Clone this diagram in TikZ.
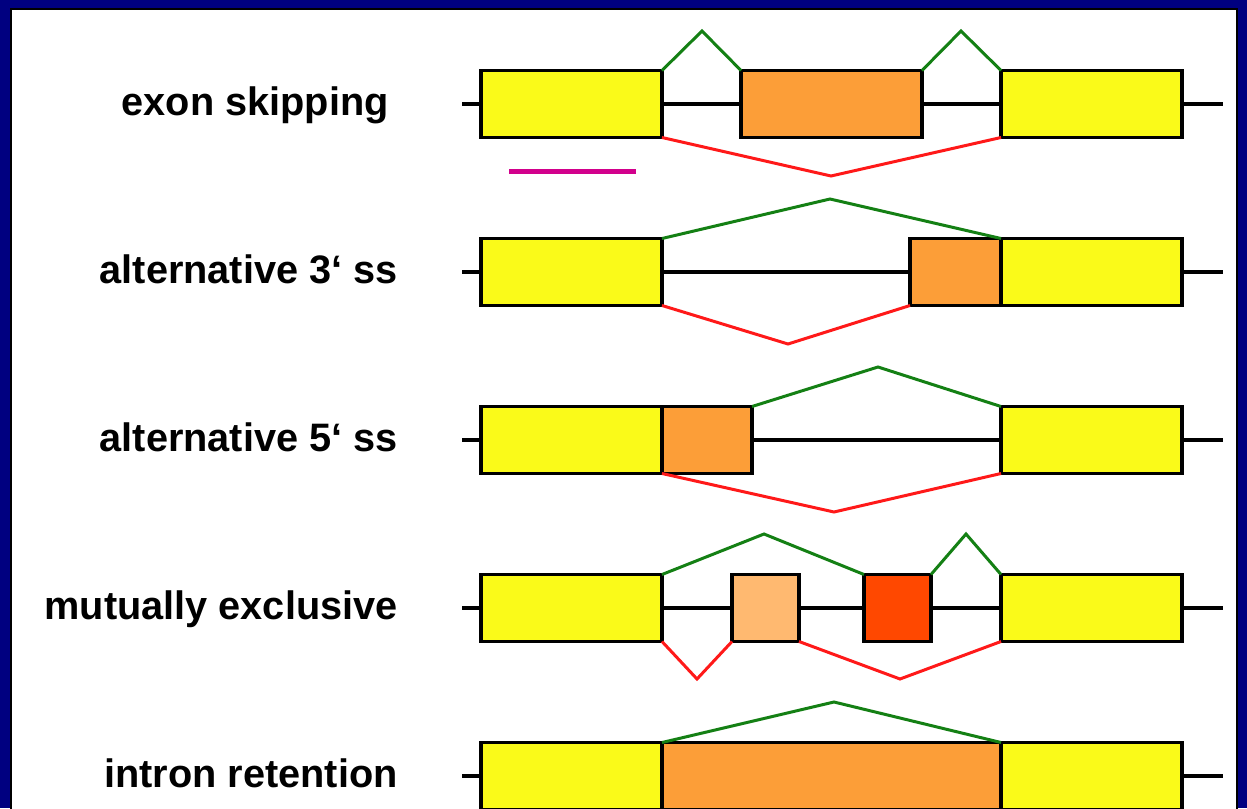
\documentclass[tikz,border=0pt]{standalone}
\usepackage{fontspec}
\setmainfont{Liberation Sans}
\usepackage{tikz}

\definecolor{framenavy}{RGB}{0,0,128}
\definecolor{exonyellow}{RGB}{250,250,25}
\definecolor{exonorange}{RGB}{252,158,56}
\definecolor{exonlight}{RGB}{255,185,112}
\definecolor{exondark}{RGB}{255,72,0}
\definecolor{splicegreen}{RGB}{20,128,20}
\definecolor{splicered}{RGB}{255,25,25}
\definecolor{barmagenta}{RGB}{210,0,140}

\tikzset{
  exon/.style={draw, line width=2pt, inner sep=0pt, outer sep=0pt, minimum height=1.34cm},
  constit/.style={exon, fill=exonyellow, minimum width=3.62cm},
  intron/.style={line width=1.8pt},
  incl/.style={draw=splicegreen, line width=1.7pt, line join=miter},
  excl/.style={draw=splicered, line width=1.7pt, line join=miter},
  rowlabel/.style={anchor=base east, inner sep=0pt, font=\fontsize{22.6}{27}\selectfont\bfseries}
}

\begin{document}
\begin{tikzpicture}[x=0.02cm,y=-0.02cm]
  \useasboundingbox (0,0) rectangle (1247,808);
  % frame
  \fill[framenavy] (0,0) rectangle (1247,808);
  \draw[fill=white, line width=0.6pt] (11,9) rectangle (1237,815);

  % introns and constitutive exons
  \foreach \i/\y in {1/104,2/272,3/440,4/608,5/776}{
    \coordinate (s\i) at (462,\y);
    \coordinate (t\i) at (1223,\y);
    \draw[intron] (s\i) -- (t\i);
    \node[constit] (a\i) at (571.5,\y) {};
    \node[constit] (b\i) at (1091.5,\y) {};
  }

  % labels
  \node[rowlabel] (lab1) at (389,115) {exon skipping};
  \node[rowlabel] (lab2) at (398,283) {alternative 3‘ ss};
  \node[rowlabel] (lab3) at (398,451) {alternative 5‘ ss};
  \node[rowlabel] (lab4) at (398,619) {mutually exclusive};
  \node[rowlabel] (lab5) at (398,787) {intron retention};

  % exon skipping
  \node[exon, fill=exonorange, minimum width=3.62cm] (o1) at (831.5,104) {};
  \coordinate (p1a) at (702,31);
  \coordinate (p1b) at (961,31);
  \coordinate (d1) at (831,176);
  \draw[incl] (a1.north east) -- (p1a) -- (o1.north west);
  \draw[incl] (o1.north east) -- (p1b) -- (b1.north west);
  \draw[excl] (a1.south east) -- (d1) -- (b1.south west);
  \draw[barmagenta, line width=0.1cm] (509,171) -- (636,171);

  % alternative 3' ss
  \node[exon, fill=exonorange, minimum width=1.82cm] (o2) at (955.5,272) {};
  \coordinate (p2) at (830,199);
  \coordinate (d2) at (788,344);
  \draw[incl] (a2.north east) -- (p2) -- (b2.north west);
  \draw[excl] (a2.south east) -- (d2) -- (o2.south west);

  % alternative 5' ss
  \node[exon, fill=exonorange, minimum width=1.8cm] (o3) at (707,440) {};
  \coordinate (p3) at (878,367);
  \coordinate (d3) at (834,512);
  \draw[incl] (o3.north east) -- (p3) -- (b3.north west);
  \draw[excl] (a3.south east) -- (d3) -- (b3.south west);

  % mutually exclusive
  \node[exon, fill=exonlight, minimum width=1.34cm] (m4a) at (765.5,608) {};
  \node[exon, fill=exondark, minimum width=1.34cm] (m4b) at (897.5,608) {};
  \coordinate (p4a) at (764,534);
  \coordinate (p4b) at (966,534);
  \coordinate (d4a) at (697,679);
  \coordinate (d4b) at (900,679);
  \draw[incl] (a4.north east) -- (p4a) -- (m4b.north west);
  \draw[incl] (m4b.north east) -- (p4b) -- (b4.north west);
  \draw[excl] (a4.south east) -- (d4a) -- (m4a.south west);
  \draw[excl] (m4a.south east) -- (d4b) -- (b4.south west);

  % intron retention
  \node[exon, fill=exonorange, minimum width=6.78cm] (o5) at (831.5,776) {};
  \coordinate (p5) at (834,702);
  \draw[incl] (a5.north east) -- (p5) -- (b5.north west);
\end{tikzpicture}
\end{document}
